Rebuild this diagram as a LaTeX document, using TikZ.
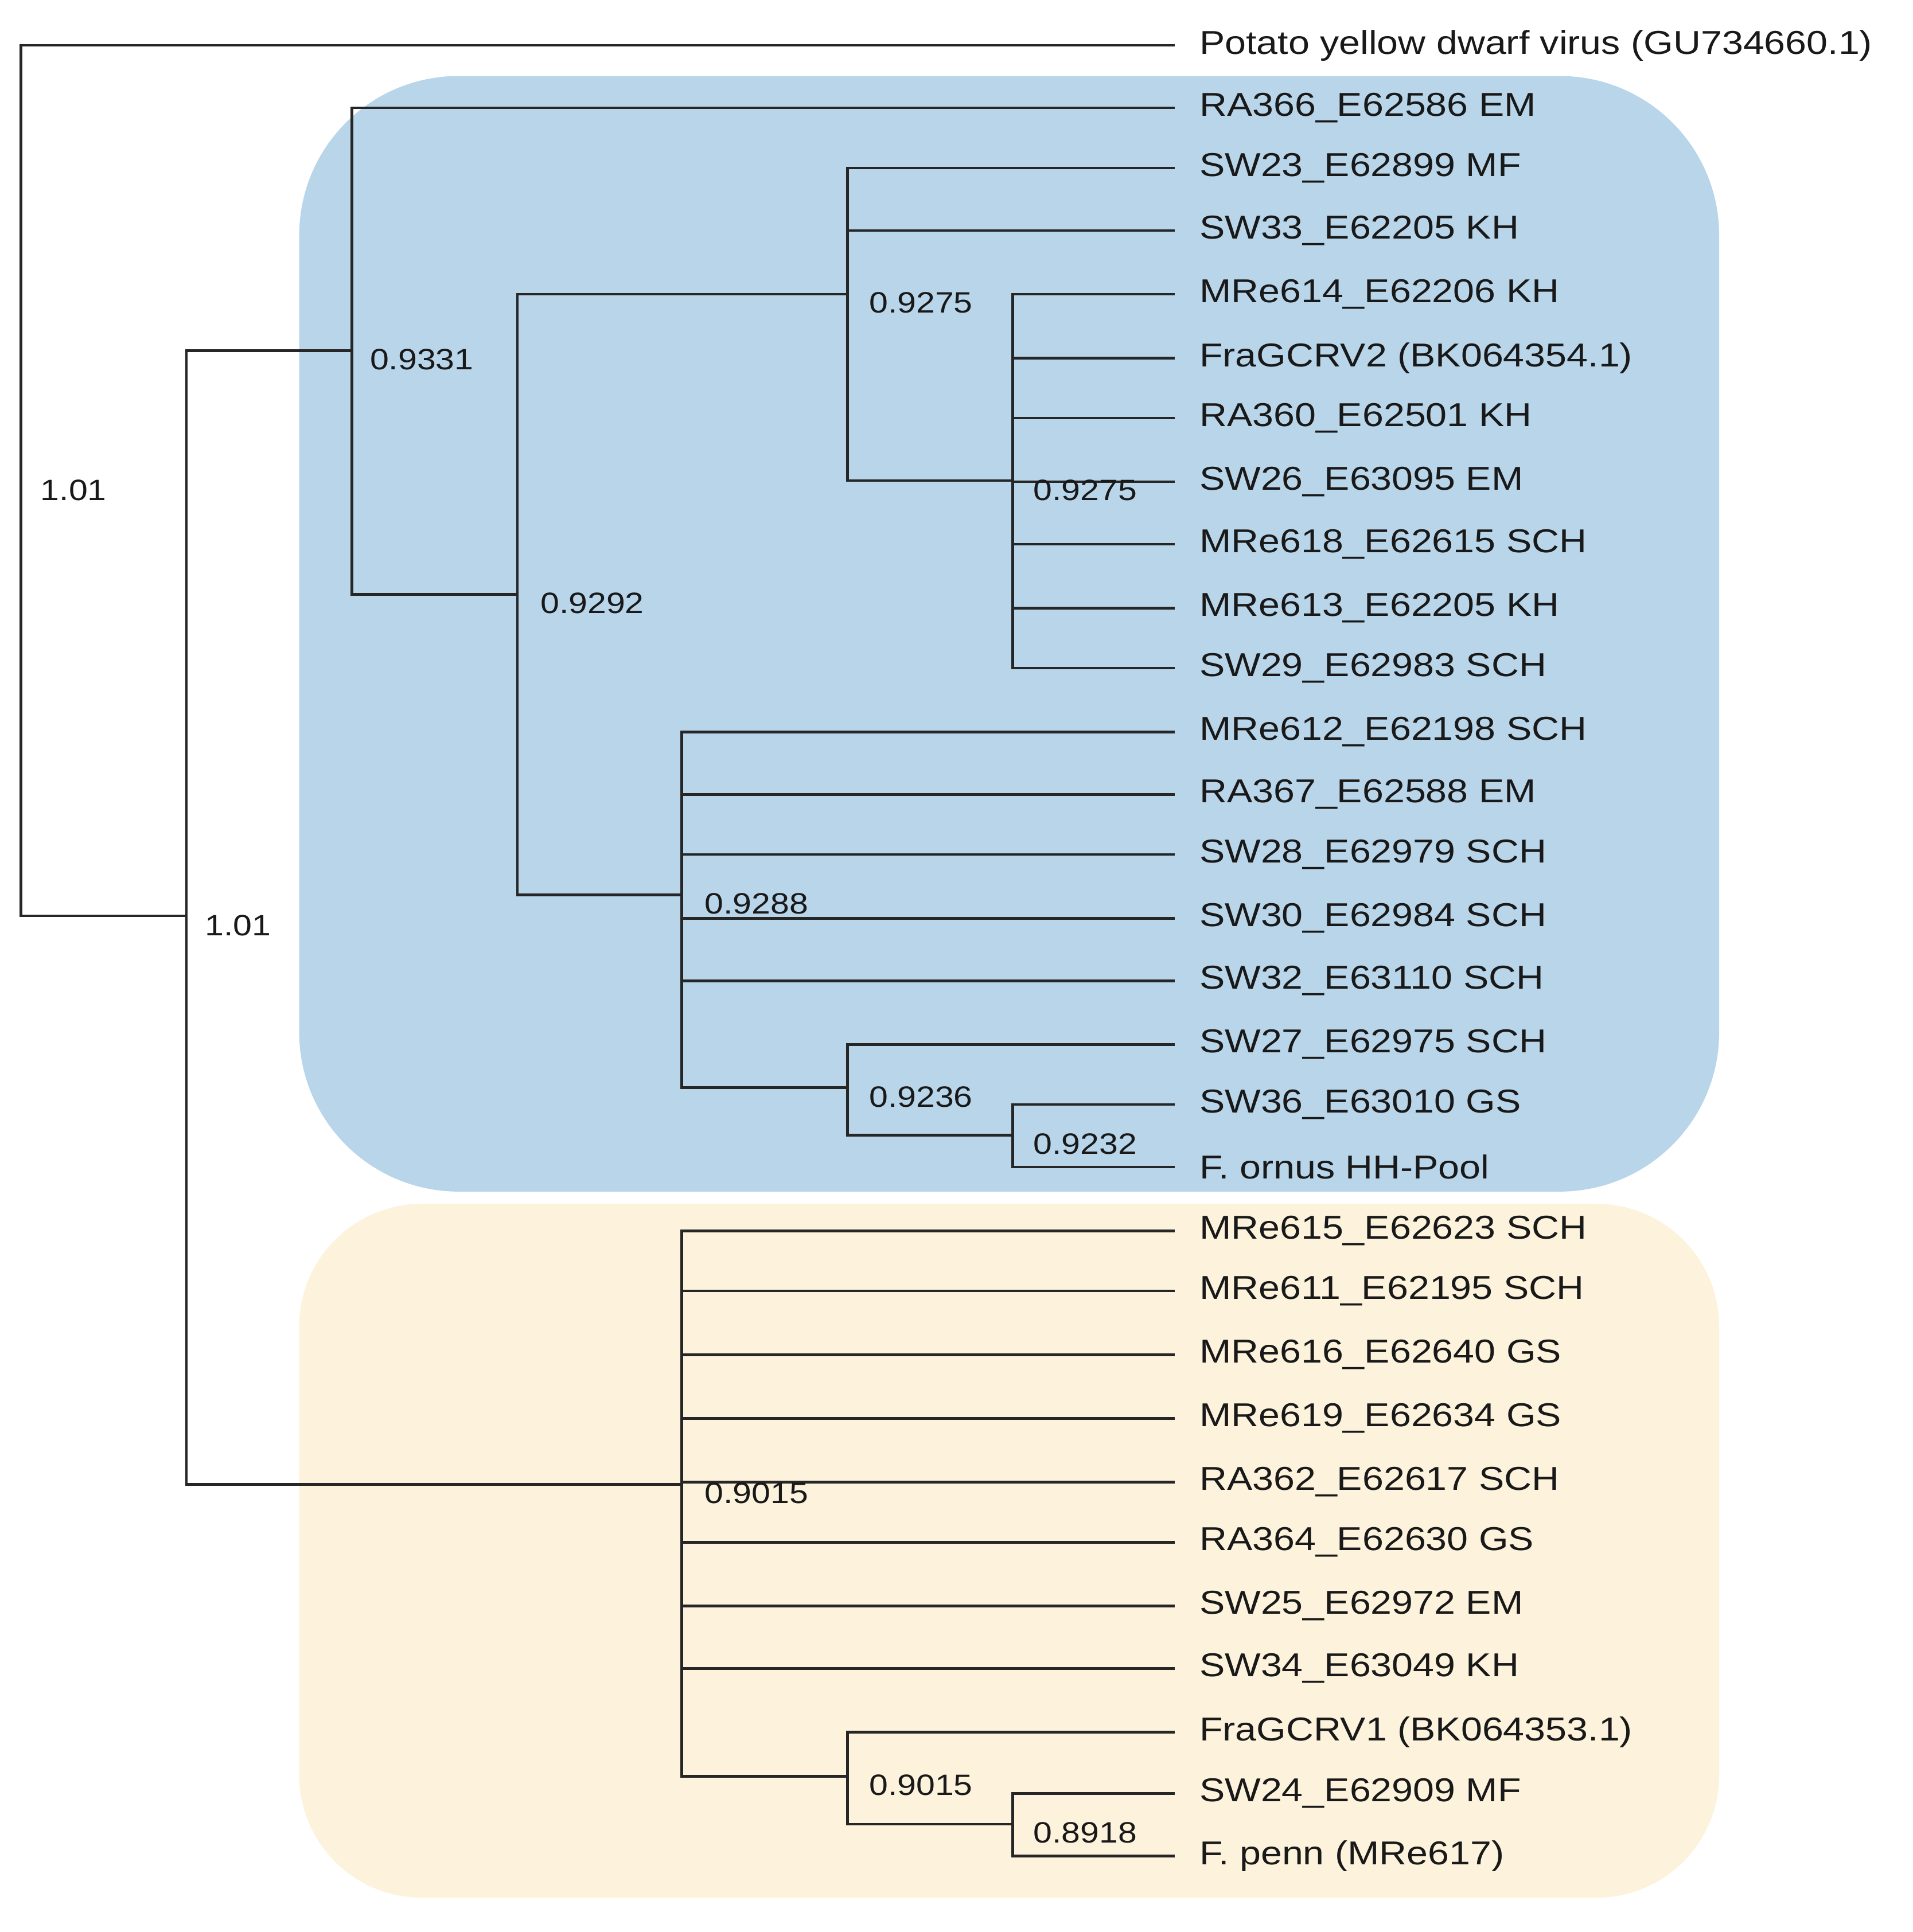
\documentclass[tikz,border=0pt]{standalone}
\usepackage{fontspec}
\setmainfont{Liberation Sans}[FakeStretch=1.15]
\begin{document}
\begin{tikzpicture}[x=1pt,y=-1pt,
  leaf/.style={anchor=west,inner xsep=20pt,inner ysep=0pt,font=\fontsize{27}{30}\selectfont,text=black!90},
  br/.style={line width=2.2pt,black!85},
  sup/.style={font=\fontsize{24}{28}\selectfont,text=black!90}]
\useasboundingbox (0,0) rectangle (1560,1576);
\fill[fill={rgb,255:red,184;green,213;blue,234},rounded corners=130pt] (244,62) rectangle (1402,972);
\fill[fill={rgb,255:red,253;green,243;blue,220},rounded corners=100pt] (244,982) rectangle (1402,1548);
% leaves
\node[leaf] (p0) at (958,37) {Potato yellow dwarf virus (GU734660.1)};
\node[leaf] (l1) at (958,88) {RA366\_E62586 EM};
\node[leaf] (l2) at (958,137) {SW23\_E62899 MF};
\node[leaf] (l3) at (958,188) {SW33\_E62205 KH};
\node[leaf] (l4) at (958,240) {MRe614\_E62206 KH};
\node[leaf] (l5) at (958,292) {FraGCRV2 (BK064354.1)};
\node[leaf] (l6) at (958,341) {RA360\_E62501 KH};
\node[leaf] (l7) at (958,393) {SW26\_E63095 EM};
\node[leaf] (l8) at (958,444) {MRe618\_E62615 SCH};
\node[leaf] (l9) at (958,496) {MRe613\_E62205 KH};
\node[leaf] (l10) at (958,545) {SW29\_E62983 SCH};
\node[leaf] (l11) at (958,597) {MRe612\_E62198 SCH};
\node[leaf] (l12) at (958,648) {RA367\_E62588 EM};
\node[leaf] (l13) at (958,697) {SW28\_E62979 SCH};
\node[leaf] (l14) at (958,749) {SW30\_E62984 SCH};
\node[leaf] (l15) at (958,800) {SW32\_E63110 SCH};
\node[leaf] (l16) at (958,852) {SW27\_E62975 SCH};
\node[leaf] (l17) at (958,901) {SW36\_E63010 GS};
\node[leaf] (l18) at (958,952) {F. ornus HH-Pool};
\node[leaf] (m1) at (958,1004) {MRe615\_E62623 SCH};
\node[leaf] (m2) at (958,1053) {MRe611\_E62195 SCH};
\node[leaf] (m3) at (958,1105) {MRe616\_E62640 GS};
\node[leaf] (m4) at (958,1157) {MRe619\_E62634 GS};
\node[leaf] (m5) at (958,1209) {RA362\_E62617 SCH};
\node[leaf] (m6) at (958,1258) {RA364\_E62630 GS};
\node[leaf] (m7) at (958,1310) {SW25\_E62972 EM};
\node[leaf] (m8) at (958,1361) {SW34\_E63049 KH};
\node[leaf] (m9) at (958,1413) {FraGCRV1 (BK064353.1)};
\node[leaf] (m10) at (958,1463) {SW24\_E62909 MF};
\node[leaf] (m11) at (958,1514) {F. penn (MRe617)};
% internal nodes
\coordinate (R) at (17,400);
\coordinate (A) at (152,747);
\coordinate (B) at (287,286);
\coordinate (C) at (422,485);
\coordinate (D) at (691,240);
\coordinate (E) at (826,392);
\coordinate (F) at (556,730);
\coordinate (G) at (691,887);
\coordinate (H) at (826,926);
\coordinate (I) at (556,1211);
\coordinate (J) at (691,1449);
\coordinate (K) at (826,1488);
\draw[br] (R) |- (p0.west) (R) |- (A);
\draw[br] (A) |- (B) (A) |- (I);
\draw[br] (B) |- (l1.west) (B) |- (C);
\draw[br] (C) |- (D) (C) |- (F);
\draw[br] (D) |- (l2.west) (D) |- (l3.west) (D) |- (E);
\foreach \n in {l4,l5,l6,l7,l8,l9,l10} \draw[br] (E) |- (\n.west);
\foreach \n in {l11,l12,l13,l14,l15} \draw[br] (F) |- (\n.west);
\draw[br] (F) |- (G);
\draw[br] (G) |- (l16.west) (G) |- (H);
\draw[br] (H) |- (l17.west) (H) |- (l18.west);
\foreach \n in {m1,m2,m3,m4,m5,m6,m7,m8} \draw[br] (I) |- (\n.west);
\draw[br] (I) |- (J);
\draw[br] (J) |- (m9.west) (J) |- (K);
\draw[br] (K) |- (m10.west) (K) |- (m11.west);
% support labels
\node[sup] (s1) at (60,400) {1.01};
\node[sup] (s2) at (194,755) {1.01};
\node[sup] (s3) at (344,293) {0.9331};
\node[sup] (s4) at (483,492) {0.9292};
\node[sup] (s5) at (751,247) {0.9275};
\node[sup] (s6) at (885,400) {0.9275};
\node[sup] (s7) at (617,737) {0.9288};
\node[sup] (s8) at (751,895) {0.9236};
\node[sup] (s9) at (885,933) {0.9232};
\node[sup] (s10) at (617,1218) {0.9015};
\node[sup] (s11) at (751,1456) {0.9015};
\node[sup] (s12) at (885,1495) {0.8918};
\end{tikzpicture}
\end{document}
